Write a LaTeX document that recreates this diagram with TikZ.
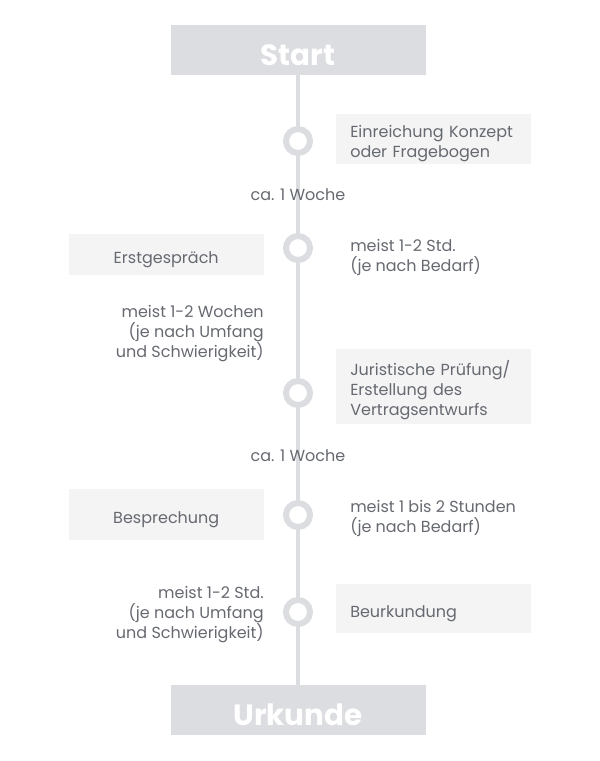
\documentclass[tikz,border=0pt]{standalone}
\usepackage{fontspec}
\setmainfont{Poppins}
\usepackage{xcolor}
\usepackage{tikz}
\usetikzlibrary{positioning}

\definecolor{spinegray}{HTML}{DCDDE0}
\definecolor{boxgray}{HTML}{F4F4F5}
\definecolor{notegray}{HTML}{666970}

\begin{document}
\begin{tikzpicture}[x=0.75pt, y=-0.75pt, font=\fontsize{12}{15}\selectfont, text=notegray,
    endbox/.style={fill=spinegray, text=white, minimum width=191.25pt, minimum height=37.5pt,
      inner sep=0pt, text height=23pt, text depth=0pt, font=\fontsize{22}{25}\selectfont\bfseries},
    stepbox/.style={fill=boxgray, text width=125.25pt, inner xsep=10.5pt, inner ysep=0pt, align=left,
      text height=13.5pt, text depth=0pt},
    stepboxleft/.style={stepbox, align=center},
    dot/.style={circle, draw=spinegray, line width=4.5pt, fill=white, inner sep=0pt, minimum size=18pt},
    note/.style={inner sep=0pt}]
  \useasboundingbox (0,0) rectangle (600,761);
  % start and end
  \node[endbox] (start) at (298,50) {Start};
  \node[endbox] (urkunde) at (298,710) {Urkunde};
  \draw[spinegray, line width=3.5pt] (start) -- (urkunde);
  % steps on the line
  \foreach \name/\y in {d1/141, d2/248, d3/393, d4/515, d5/612}
    \node[dot] (\name) at (298,\y) {};
  % boxes
  \node[stepbox, minimum height=37.5pt, text depth=15.9pt, anchor=west] (einreichung) at (336,139)
    {Einreichung Konzept\\oder Fragebogen};
  \node[stepboxleft, minimum height=30.75pt, anchor=east] (erstgespraech) at (264,254.5)
    {Erstgespräch};
  \node[stepbox, minimum height=56.25pt, text depth=29.4pt, anchor=west] (pruefung) at (336,386.5)
    {Juristische Prüfung/\\Erstellung des\\Vertragsentwurfs};
  \node[stepboxleft, minimum height=38.25pt, anchor=east] (besprechung) at (264,514.5)
    {Besprechung};
  \node[stepbox, minimum height=36.75pt, text height=14pt, anchor=west] (beurkundung) at (336,608.5)
    {Beurkundung};
  % durations
  \node[note] (woche1) at (298,195) {ca. 1 Woche};
  \node[note, anchor=west, align=left] (std1) at (350,257) {meist 1-2 Std.\\(je nach Bedarf)};
  \node[note, anchor=east, align=right] (wochen) at (264,334)
    {meist 1-2 Wochen\\(je nach Umfang\\und Schwierigkeit)};
  \node[note] (woche2) at (298,456) {ca. 1 Woche};
  \node[note, anchor=west, align=left] (stunden) at (350,518) {meist 1 bis 2 Stunden\\(je nach Bedarf)};
  \node[note, anchor=east, align=right] (std2) at (264,615)
    {meist 1-2 Std.\\(je nach Umfang\\und Schwierigkeit)};
\end{tikzpicture}
\end{document}
